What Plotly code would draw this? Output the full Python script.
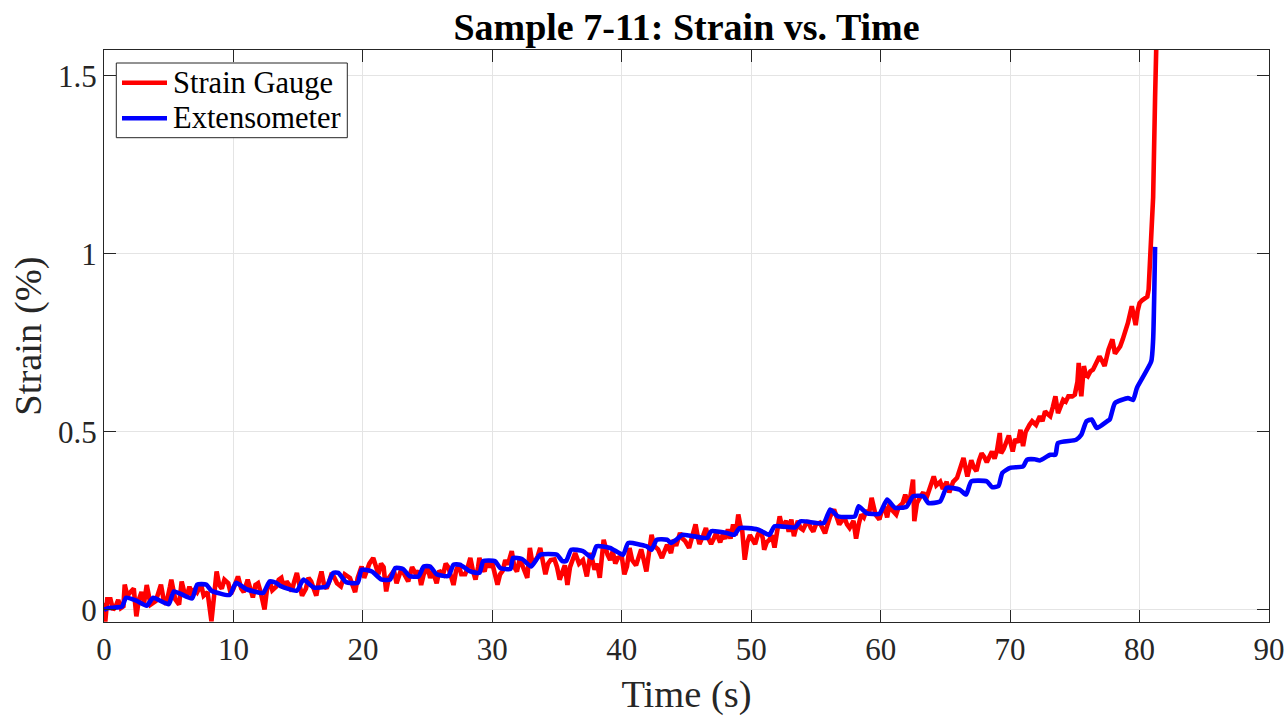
import plotly.graph_objects as go

# ---------------- data ----------------
BLUE_T = [0.0, 0.3, 0.7, 1.4, 1.7, 2.5, 3.3, 3.8, 5.0, 5.4, 6.8, 7.2, 7.9, 8.3, 9.7, 10.2,
          11.0, 12.3, 12.8, 13.3, 13.7, 14.9, 15.4, 16.2, 17.2, 17.7, 18.1, 18.7, 19.6, 19.9,
          20.7, 21.4, 22.1, 22.5, 23.1, 23.6, 24.3, 24.7, 25.2, 25.7, 26.6, 27.0, 27.5, 28.3,
          29.0, 29.3, 30.2, 30.6, 31.4, 31.6, 32.3, 33.0, 33.7, 35.0, 35.4, 35.7, 36.1, 37.0,
          37.7, 38.05, 39.1, 40.1, 40.5, 41.9, 42.3, 42.7, 43.5, 43.8, 44.2, 44.7, 46.6, 46.9,
          48.1, 48.7, 49.1, 50.5, 51.4, 51.8, 53.4, 53.8, 55.6, 56.1, 56.7, 58.0, 58.3, 58.9,
          59.9, 60.5, 61.1, 62.0, 62.5, 63.3, 63.7, 64.6, 65.1, 66.1, 66.6, 67.0, 68.2, 68.6,
          69.1, 69.4, 70.0, 71.0, 71.3, 71.9, 72.3, 73.1, 73.5, 73.7, 75.1, 75.5, 75.9, 76.3,
          76.7, 77.5, 77.7, 78.1, 79.1, 79.5, 79.8, 80.9, 81.05, 81.2]
BLUE_V = [0.0, 0.005, 0.006, 0.01, 0.034, 0.026, 0.012, 0.034, 0.016, 0.052, 0.032, 0.071,
          0.071, 0.054, 0.042, 0.076, 0.058, 0.048, 0.08, 0.076, 0.066, 0.054, 0.085, 0.063,
          0.066, 0.104, 0.104, 0.078, 0.076, 0.113, 0.108, 0.086, 0.085, 0.118, 0.115, 0.095,
          0.094, 0.122, 0.122, 0.1, 0.095, 0.127, 0.127, 0.108, 0.104, 0.137, 0.137, 0.118,
          0.115, 0.146, 0.143, 0.122, 0.155, 0.155, 0.137, 0.137, 0.169, 0.165, 0.146, 0.179,
          0.174, 0.155, 0.188, 0.179, 0.169, 0.197, 0.197, 0.188, 0.197, 0.211, 0.202, 0.221,
          0.216, 0.211, 0.23, 0.226, 0.211, 0.235, 0.232, 0.249, 0.244, 0.282, 0.263, 0.263,
          0.291, 0.272, 0.27, 0.31, 0.287, 0.29, 0.319, 0.319, 0.30, 0.305, 0.343, 0.338,
          0.324, 0.361, 0.361, 0.345, 0.348, 0.385, 0.399, 0.403, 0.422, 0.423, 0.42, 0.436,
          0.436, 0.469, 0.478, 0.492, 0.53, 0.535, 0.511, 0.53, 0.535, 0.581, 0.595, 0.59,
          0.624, 0.698, 0.76, 1.02]

RED_POINTS = [
    (0.0, 0.02), (0.1, -0.033), (0.25, 0.03), (0.5, 0.03), (0.7, 0.0), (0.9, 0.01), (1.1, 0.028),
    (1.3, 0.005), (1.5, 0.01), (1.6, 0.071), (1.8, 0.04), (2.0, 0.05), (2.3, 0.06), (2.5, -0.018),
    (2.7, 0.03), (2.9, 0.05), (3.1, 0.02), (3.3, 0.07), (3.6, 0.015), (4.0, 0.025), (4.2, 0.05),
    (4.4, 0.071), (4.6, 0.03), (4.8, 0.015), (5.1, 0.066), (5.2, 0.085), (5.5, 0.03), (5.8, 0.015),
    (6.0, 0.08), (6.2, 0.05), (6.4, 0.04), (6.6, 0.065), (6.8, 0.04), (7.0, 0.06), (7.2, 0.05),
    (7.5, 0.071), (7.7, 0.04), (8.0, 0.05), (8.3, -0.032), (8.5, 0.04), (8.7, 0.108), (8.9, 0.07),
    (9.1, 0.06), (9.3, 0.085), (9.6, 0.075), (9.8, 0.045), (10.0, 0.06), (10.35, 0.094),
    (10.6, 0.06), (10.8, 0.05), (11.1, 0.085), (11.3, 0.06), (11.5, 0.035), (11.7, 0.07),
    (11.9, 0.075), (12.1, 0.05), (12.4, 0.001), (12.6, 0.06), (12.8, 0.08), (13.0, 0.055),
    (13.3, 0.065), (13.5, 0.085), (13.7, 0.09), (13.9, 0.06), (14.1, 0.08), (14.3, 0.07),
    (14.5, 0.052), (14.7, 0.08), (14.9, 0.104), (15.1, 0.07), (15.3, 0.04), (15.6, 0.06),
    (15.8, 0.09), (16.0, 0.08), (16.2, 0.06), (16.4, 0.04), (16.6, 0.08), (16.8, 0.108),
    (17.0, 0.07), (17.2, 0.06), (17.4, 0.08), (17.6, 0.104), (17.8, 0.09), (18.0, 0.075),
    (18.3, 0.066), (18.6, 0.1), (19.0, 0.09), (19.2, 0.07), (19.4, 0.05), (19.6, 0.09),
    (19.9, 0.122), (20.1, 0.09), (20.3, 0.11), (20.5, 0.13), (20.8, 0.146), (21.0, 0.12),
    (21.2, 0.1), (21.4, 0.13), (21.6, 0.12), (21.8, 0.052), (22.0, 0.09), (22.2, 0.1),
    (22.4, 0.11), (22.6, 0.075), (22.8, 0.1), (23.0, 0.118), (23.2, 0.1), (23.5, 0.08),
    (23.8, 0.12), (24.1, 0.1), (24.3, 0.11), (24.5, 0.07), (24.7, 0.1), (25.0, 0.12),
    (25.2, 0.09), (25.4, 0.108), (25.7, 0.075), (25.9, 0.11), (26.2, 0.1), (26.4, 0.13),
    (26.6, 0.12), (26.8, 0.09), (27.0, 0.07), (27.2, 0.11), (27.4, 0.127), (27.6, 0.1),
    (27.9, 0.1), (28.1, 0.12), (28.3, 0.146), (28.5, 0.11), (28.7, 0.085), (28.9, 0.12),
    (29.0, 0.146), (29.2, 0.12), (29.4, 0.108), (29.6, 0.14), (29.8, 0.12), (30.0, 0.13),
    (30.2, 0.1), (30.4, 0.071), (30.6, 0.1), (30.8, 0.11), (31.0, 0.14), (31.2, 0.127),
    (31.5, 0.165), (31.7, 0.12), (31.9, 0.108), (32.1, 0.14), (32.3, 0.127), (32.5, 0.11),
    (32.7, 0.09), (32.9, 0.174), (33.1, 0.13), (33.3, 0.137), (33.5, 0.15), (33.7, 0.174),
    (33.9, 0.13), (34.1, 0.1), (34.3, 0.13), (34.5, 0.14), (34.8, 0.142), (35.0, 0.12),
    (35.2, 0.085), (35.4, 0.11), (35.6, 0.125), (35.8, 0.07), (36.0, 0.12), (36.2, 0.14),
    (36.4, 0.16), (36.7, 0.13), (37.0, 0.14), (37.3, 0.094), (37.6, 0.16), (37.9, 0.113),
    (38.1, 0.13), (38.3, 0.09), (38.6, 0.197), (38.9, 0.155), (39.1, 0.14), (39.3, 0.165),
    (39.5, 0.13), (39.7, 0.146), (40.0, 0.15), (40.2, 0.1), (40.4, 0.122), (40.6, 0.174),
    (40.8, 0.14), (41.1, 0.125), (41.3, 0.15), (41.5, 0.17), (41.7, 0.14), (41.9, 0.108),
    (42.1, 0.16), (42.3, 0.211), (42.5, 0.18), (42.8, 0.17), (43.1, 0.146), (43.3, 0.17),
    (43.5, 0.183), (43.8, 0.16), (44.0, 0.197), (44.2, 0.18), (44.5, 0.216), (44.7, 0.2),
    (44.9, 0.193), (45.2, 0.174), (45.4, 0.2), (45.7, 0.24), (45.9, 0.2), (46.0, 0.185),
    (46.3, 0.21), (46.5, 0.23), (46.7, 0.2), (46.9, 0.185), (47.1, 0.2), (47.3, 0.216),
    (47.6, 0.19), (47.8, 0.211), (48.0, 0.2), (48.2, 0.226), (48.4, 0.2), (48.6, 0.24),
    (48.8, 0.21), (49.0, 0.268), (49.2, 0.23), (49.3, 0.225), (49.5, 0.141), (49.7, 0.19),
    (49.9, 0.21), (50.1, 0.2), (50.3, 0.185), (50.5, 0.21), (50.7, 0.225), (50.9, 0.2),
    (51.0, 0.169), (51.2, 0.19), (51.4, 0.197), (51.6, 0.21), (51.8, 0.175), (52.0, 0.22),
    (52.2, 0.263), (52.4, 0.23), (52.7, 0.25), (52.9, 0.22), (53.1, 0.254), (53.3, 0.207),
    (53.6, 0.25), (53.8, 0.23), (54.0, 0.225), (54.2, 0.24), (54.4, 0.25), (54.6, 0.23),
    (54.8, 0.22), (55.0, 0.24), (55.3, 0.245), (55.5, 0.23), (55.7, 0.215), (55.9, 0.24),
    (56.1, 0.263), (56.4, 0.282), (56.6, 0.26), (56.8, 0.24), (57.0, 0.25), (57.2, 0.26),
    (57.4, 0.24), (57.6, 0.23), (57.9, 0.25), (58.1, 0.2), (58.3, 0.24), (58.5, 0.268),
    (58.7, 0.26), (58.9, 0.28), (59.1, 0.27), (59.3, 0.315), (59.6, 0.268), (59.9, 0.254),
    (60.1, 0.28), (60.3, 0.29), (60.5, 0.26), (60.7, 0.3), (60.9, 0.28), (61.2, 0.268),
    (61.4, 0.29), (61.7, 0.3), (61.9, 0.324), (62.1, 0.3), (62.3, 0.32), (62.5, 0.366),
    (62.6, 0.249), (62.8, 0.3), (63.1, 0.32), (63.3, 0.33), (63.5, 0.31), (63.8, 0.34),
    (64.1, 0.375), (64.3, 0.35), (64.6, 0.36), (64.8, 0.34), (65.1, 0.36), (65.3, 0.33),
    (65.6, 0.36), (65.9, 0.371), (66.1, 0.39), (66.4, 0.427), (66.7, 0.375), (67.0, 0.42),
    (67.2, 0.4), (67.4, 0.39), (67.6, 0.42), (67.8, 0.44), (68.0, 0.43), (68.2, 0.415),
    (68.4, 0.43), (68.6, 0.445), (68.8, 0.425), (69.0, 0.45), (69.2, 0.497), (69.3, 0.44),
    (69.5, 0.452), (69.7, 0.47), (69.9, 0.49), (70.2, 0.445), (70.4, 0.48), (70.6, 0.47),
    (70.8, 0.506), (71.0, 0.46), (71.2, 0.5), (71.5, 0.52), (71.7, 0.53), (72.0, 0.52),
    (72.3, 0.544), (72.5, 0.53), (72.7, 0.558), (72.9, 0.55), (73.1, 0.544), (73.3, 0.57),
    (73.5, 0.6), (73.7, 0.553), (73.9, 0.57), (74.1, 0.59), (74.3, 0.585), (74.5, 0.6),
    (74.8, 0.6), (75.0, 0.605), (75.2, 0.64), (75.3, 0.694), (75.4, 0.63), (75.5, 0.6),
    (75.7, 0.685), (75.85, 0.66), (76.0, 0.656), (76.2, 0.67), (76.4, 0.675), (76.6, 0.69),
    (76.9, 0.712), (77.1, 0.7), (77.3, 0.685), (77.6, 0.731), (77.9, 0.76), (78.1, 0.72),
    (78.3, 0.73), (78.5, 0.74), (78.7, 0.76), (78.9, 0.783), (79.1, 0.806), (79.4, 0.853),
    (79.7, 0.8), (79.85, 0.84), (80.0, 0.862), (80.2, 0.87), (80.4, 0.876), (80.6, 0.88),
    (80.7, 0.9), (80.8, 0.984), (80.9, 1.04), (81.05, 1.16), (81.2, 1.44), (81.3, 1.58),
    (81.4, 1.75),
]
RED_T = [p[0] for p in RED_POINTS]
RED_V = [p[1] for p in RED_POINTS]

X_TICKS = [0, 10, 20, 30, 40, 50, 60, 70, 80, 90]
Y_TICKS = [0, 0.5, 1, 1.5]
Y_TICK_TEXT = ["0", "0.5", "1", "1.5"]

TITLE = "Sample 7-11: Strain vs. Time"
X_LABEL = "Time (s)"
Y_LABEL = "Strain (%)"
SERIES_NAMES = ["Strain Gauge", "Extensometer"]
SERIES_COLORS = ["#FF0000", "#0000FF"]

# ---------------- figure ----------------
FONT = "Liberation Serif, Times New Roman, serif"
AX = "#262626"
W, H = 1288, 716
ML, MR, MT, MB = 104, 19, 50, 94
PW, PH = W - ML - MR, H - MT - MB


def px(xp):
    return (xp - ML) / PW


def py(yp):
    return (H - MB - yp) / PH


fig = go.Figure()
fig.add_trace(go.Scatter(x=RED_T, y=RED_V, mode="lines", name=SERIES_NAMES[0],
                         line=dict(color=SERIES_COLORS[0], width=4.6), showlegend=False))
fig.add_trace(go.Scatter(x=BLUE_T, y=BLUE_V, mode="lines", name=SERIES_NAMES[1],
                         line=dict(color=SERIES_COLORS[1], width=4.6, shape="spline",
                                   smoothing=0.5), showlegend=False))

axis_common = dict(showline=True, linecolor=AX, linewidth=1.3, mirror="allticks",
                   ticks="inside", ticklen=12, tickwidth=1.3, tickcolor=AX,
                   showgrid=True, gridcolor="#e4e4e4", gridwidth=1, zeroline=False,
                   automargin=False,
                   tickfont=dict(family=FONT, size=31, color=AX))

fig.update_xaxes(range=[0, 90], tickvals=X_TICKS,
                 title=dict(text=X_LABEL, font=dict(family=FONT, size=38.5, color=AX), standoff=14),
                 **axis_common)
fig.update_yaxes(range=[-0.034, 1.573], tickvals=Y_TICKS, ticktext=Y_TICK_TEXT,
                 title=dict(text=Y_LABEL, font=dict(family=FONT, size=38.5, color=AX), standoff=4),
                 **axis_common)

# legend box drawn in the MATLAB style (line sample + label)
shapes = [dict(type="rect", xref="paper", yref="paper",
               x0=px(116.3), x1=px(347.3), y0=py(137.7), y1=py(63),
               line=dict(color=AX, width=1), fillcolor="white", layer="above")]
annotations = []
for i, (name, col) in enumerate(zip(SERIES_NAMES, SERIES_COLORS)):
    yrow = 82.7 + i * 35.6
    shapes.append(dict(type="line", xref="paper", yref="paper",
                       x0=px(122), x1=px(167), y0=py(yrow), y1=py(yrow),
                       line=dict(color=col, width=4.6), layer="above"))
    annotations.append(dict(text=name, xref="paper", yref="paper", x=px(171), y=py(yrow),
                            xanchor="left", yanchor="middle", showarrow=False,
                            font=dict(family=FONT, size=30.5, color="#000000")))

fig.update_layout(
    width=W, height=H,
    margin=dict(l=ML, r=MR, t=MT, b=MB),
    paper_bgcolor="white", plot_bgcolor="white",
    title=dict(text="<b>" + TITLE + "</b>", x=0.5, xref="paper", xanchor="center",
               y=1 - 27 / H, yref="container", yanchor="middle",
               font=dict(family=FONT, size=38, color="#000000")),
    showlegend=False,
    shapes=shapes,
    annotations=annotations,
)

fig.write_html("out.html")
